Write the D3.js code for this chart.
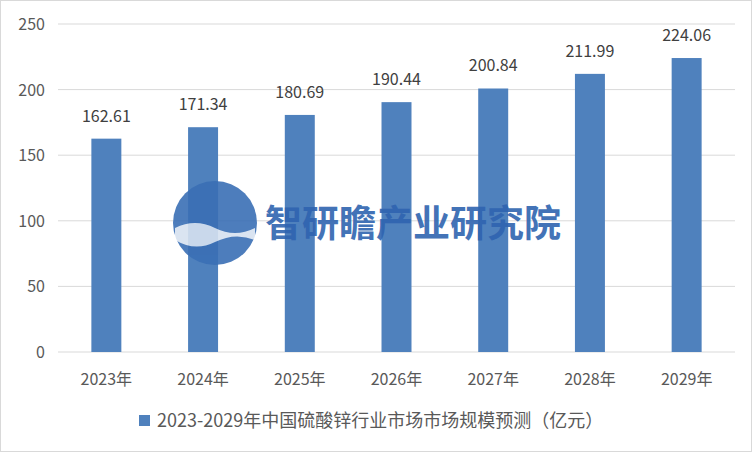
<!DOCTYPE html><html><head><meta charset="utf-8"><script src="https://d3js.org/d3.v7.min.js"></script>
<style>body{margin:0;background:#fff}</style></head><body><svg id="c" width="752" height="452"></svg>
<script>
const categories=["2023年","2024年","2025年","2026年","2027年","2028年","2029年"];
const values=[162.61,171.34,180.69,190.44,200.84,211.99,224.06];
const yTicks=[0,50,100,150,200,250];
const seriesName="2023-2029年中国硫酸锌行业市场市场规模预测（亿元）";
const svg=d3.select("#c");
svg.append("rect").attr("x",0.5).attr("y",0.5).attr("width",751).attr("height",451).attr("fill","#fff").attr("stroke","#d9d9d9");
const x=d3.scaleBand().domain(categories).range([58,735]).paddingInner(0.69).paddingOuter(0.345);
const y=d3.scaleLinear().domain([0,250]).range([352,24]);
const f="'Microsoft YaHei','Noto Sans CJK SC',sans-serif";
svg.append("g").selectAll("line").data(yTicks).join("line").attr("x1",58).attr("x2",735).attr("y1",d=>y(d)).attr("y2",d=>y(d)).attr("stroke","#d9d9d9");
svg.append("g").selectAll("text").data(yTicks).join("text").attr("x",45).attr("y",d=>y(d)+6).attr("text-anchor","end").attr("font-family",f).attr("font-size",16).attr("fill","#595959").text(d=>d);
svg.append("g").selectAll("rect").data(values).join("rect").attr("x",(d,i)=>x(categories[i])).attr("width",x.bandwidth()).attr("y",d=>y(d)).attr("height",d=>y(0)-y(d)).attr("fill","#4f81bd");
svg.append("g").selectAll("text").data(values).join("text").attr("x",(d,i)=>x(categories[i])+x.bandwidth()/2).attr("y",d=>y(d)-17).attr("text-anchor","middle").attr("font-family",f).attr("font-size",16).attr("fill","#404040").text(d=>d.toFixed(2));
svg.append("g").selectAll("text").data(categories).join("text").attr("x",d=>x(d)+x.bandwidth()/2).attr("y",385).attr("text-anchor","middle").attr("font-family",f).attr("font-size",16).attr("fill","#595959").text(d=>d);
const g=svg.append("g").attr("opacity",0.9);
g.append("circle").attr("cx",215).attr("cy",223).attr("r",42).attr("fill","#3a6fb5");
g.append("path").attr("d","M175,228 Q195,218 215,228 T255,228 L255,240 Q235,232 215,242 T175,240Z").attr("fill","#fff").attr("opacity",0.8);
g.append("text").attr("x",265).attr("y",237).attr("font-family",f).attr("font-size",37).attr("font-weight","bold").attr("fill","#2f64b0").text("智研瞻产业研究院");
svg.append("rect").attr("x",139).attr("y",415).attr("width",11).attr("height",11).attr("fill","#4f81bd");
svg.append("text").attr("x",157).attr("y",427).attr("font-family",f).attr("font-size",18).attr("fill","#595959").text(seriesName);
</script></body></html>
